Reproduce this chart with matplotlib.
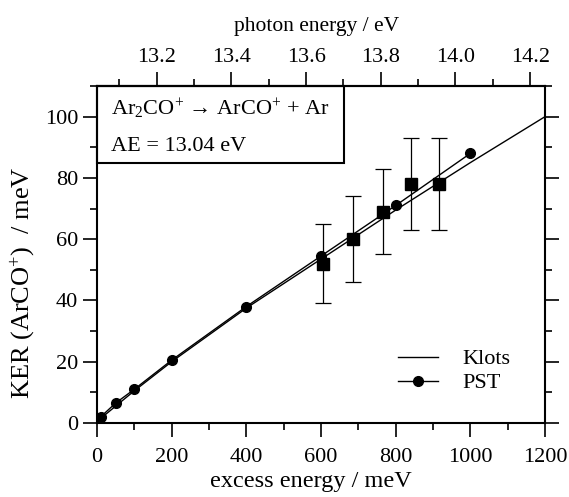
import numpy as np
import matplotlib
matplotlib.use('Agg')
import matplotlib.pyplot as plt
from matplotlib.patches import Rectangle

plt.rcParams['font.family'] = ['Liberation Serif', 'DejaVu Serif']
plt.rcParams['mathtext.fontset'] = 'custom'
plt.rcParams['mathtext.rm'] = 'Liberation Serif'
plt.rcParams['mathtext.it'] = 'Liberation Serif:italic'

AE = 13.04  # eV

# Klots model curve
klots_x = [0, 100, 200, 400, 600, 800, 1000, 1200]
klots_y = [0.5, 10.5, 20.0, 37.5, 53.5, 69.5, 85.0, 100.0]

# PST calculation
pst_x = [10, 50, 100, 200, 400, 600, 800, 1000]
pst_y = [2.0, 6.5, 11.0, 20.5, 38.0, 54.5, 71.0, 88.0]

# measured KER with error bars
exp_x = [605, 685, 765, 840, 916]
exp_y = [52, 60, 69, 78, 78]
exp_err = [13, 14, 14, 15, 15]

fig = plt.figure(figsize=(5.69, 4.97), dpi=100)
ax = fig.add_axes([0.1705, 0.149, 0.7875, 0.678])

ax.plot(klots_x, klots_y, color='black', lw=1.0, label='Klots')
ax.plot(pst_x, pst_y, color='black', lw=1.0, marker='o', ms=7, label='PST')
ax.errorbar(exp_x, exp_y, yerr=exp_err, fmt='s', color='black', ms=8,
            elinewidth=0.9, capsize=6, capthick=0.9)

ax.set_xlim(0, 1200)
ax.set_ylim(0, 110)
ax.set_xticks(np.arange(0, 1201, 200))
ax.set_xticks(np.arange(100, 1200, 200), minor=True)
ax.set_yticks(np.arange(0, 101, 20))
ax.set_yticks(np.arange(10, 111, 20), minor=True)
ax.tick_params(which='both', direction='out', width=1.2, labelsize=16,
               right=True, top=False, color='black')
ax.tick_params(which='major', length=10)
ax.tick_params(which='minor', length=5)
ax.tick_params(axis='x', which='major', pad=8)
for s in ax.spines.values():
    s.set_linewidth(1.5)

ax.set_xlabel('excess energy / meV', fontsize=17.5)
ax.set_ylabel('KER (ArCO$^{+}$)  / meV', fontsize=19)
ax.xaxis.set_label_coords(0.477, -0.143)
ax.yaxis.set_label_coords(-0.134, 0.415)

top = ax.secondary_xaxis('top', functions=(lambda x: AE + x / 1000.0,
                                           lambda p: (p - AE) * 1000.0))
top.set_xticks([13.2, 13.4, 13.6, 13.8, 14.0, 14.2])
top.set_xticks([13.1, 13.3, 13.5, 13.7, 13.9, 14.1], minor=True)
top.set_xticklabels(['13.2', '13.4', '13.6', '13.8', '14.0', '14.2'])
top.tick_params(which='both', direction='out', width=1.2, labelsize=16)
top.tick_params(which='major', length=10)
top.tick_params(which='minor', length=5)
top.spines['top'].set_linewidth(1.5)
top.set_xlabel('photon energy / eV', fontsize=15.5)
top.xaxis.set_label_coords(0.49, 1.163, transform=ax.transAxes)

ax.add_patch(Rectangle((0, 0.7715), 0.551, 0.2285, transform=ax.transAxes,
                       fill=False, lw=1.5, ec='black', clip_on=False))
ax.text(0.031, 0.913, 'Ar$_2$CO$^{+}$ → ArCO$^{+}$ + Ar',
        transform=ax.transAxes, fontsize=16, va='baseline', ha='left')
ax.text(0.031, 0.808, 'AE = 13.04 eV', transform=ax.transAxes, fontsize=16,
        va='baseline', ha='left')

ax.legend(loc='lower left', bbox_to_anchor=(0.647, 0.055), frameon=False,
          borderpad=0, fontsize=16, handlelength=1.8, handletextpad=1.1,
          labelspacing=0.15)

fig.savefig('out.png', dpi=100)
